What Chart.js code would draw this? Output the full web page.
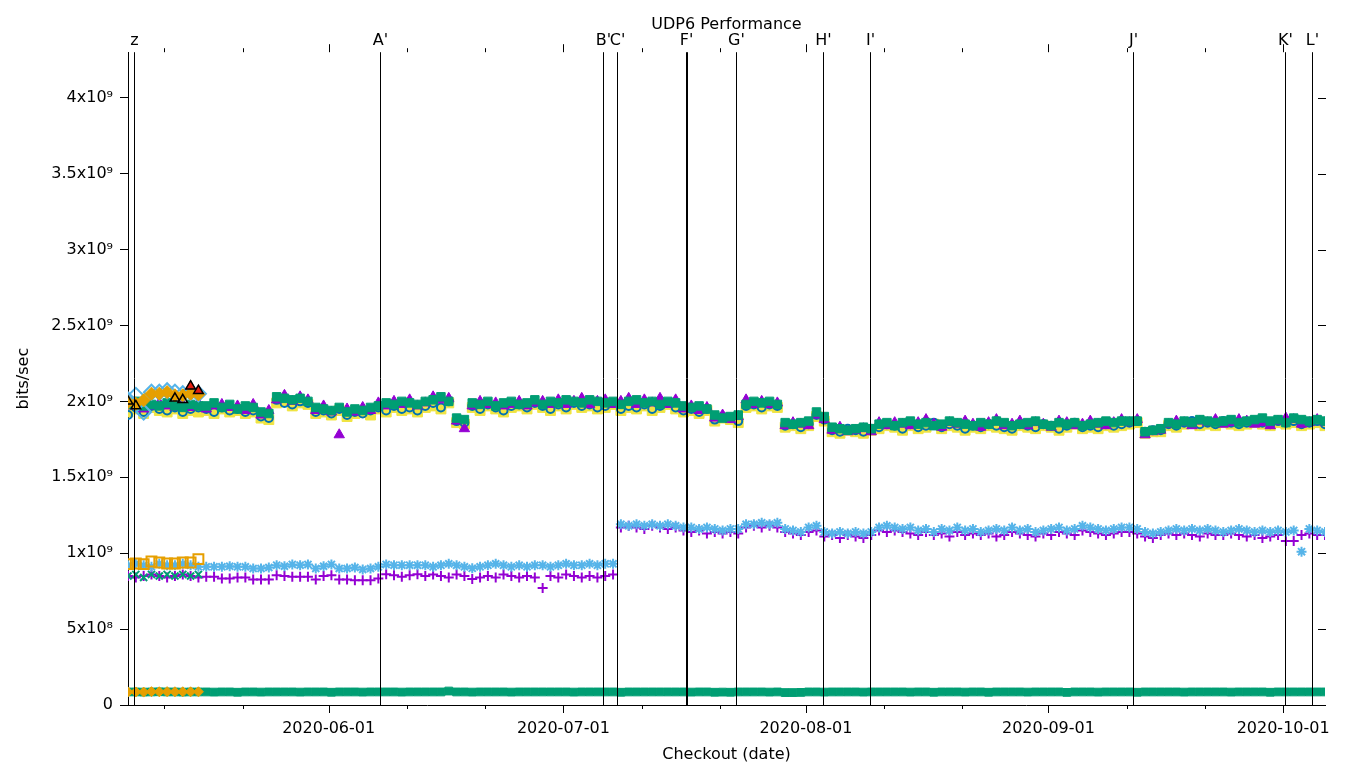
<!DOCTYPE html>
<html>
<head>
<meta charset="utf-8">
<title>UDP6 Performance</title>
<script src="https://cdn.jsdelivr.net/npm/chart.js@4.4.1/dist/chart.umd.min.js"></script>
<style>
  html, body { margin: 0; padding: 0; background: #fff; }
  #wrap { width: 1360px; height: 768px; }
</style>
</head>
<body>
<div id="wrap"><canvas id="perfChart" width="1360" height="768"></canvas></div>
<script>
// x values are days of 2020 (0 = Jan 1); one checkout per day starting at firstDay
const firstDay = 126.35;
const lastDay = 279.35;
// y values are in units of 1e7 bits/sec
const unit = 1e7;

const monthTicks = [152, 182, 213, 244, 274];
const monthLabels = ['2020-06-01', '2020-07-01', '2020-08-01', '2020-09-01', '2020-10-01'];
const minorTicks = [131, 141, 162, 172, 192, 202, 223, 233, 254, 264];

const yTicks = [0, 5e8, 1e9, 1.5e9, 2e9, 2.5e9, 3e9, 3.5e9, 4e9];
const yTickLabels = ['0', '5x10⁸', '1x10⁹', '1.5x10⁹', '2x10⁹', '2.5x10⁹', '3x10⁹', '3.5x10⁹', '4x10⁹'];

// release markers (vertical lines)
const markerDays = [127.12, 158.57, 187.09, 188.88, 197.7, 197.83, 204.1, 215.22, 221.24, 254.87, 274.18, 277.63];
const markerLabels = ['z', "A'", "B'", "C'", "F'", "F'", "G'", "H'", "I'", "J'", "K'", "L'"];

// ~2e9 cluster
const upperGreen = [
  198, 200, 197,
  198, 197, 199, 197, 196, 198, 197,
  197, 199, 196, 198, 195, 197, 196,
  193, 192,
  203, 202, 201, 202, 200,
  196, 195, 194, 196, 193, 195, 194, 196,
  197, 199, 198, 200, 199, 198, 200,
  201, 203, 200,
  189, 188,
  199, 198, 200, 197, 199,
  200, 198, 199, 201, 198, 200, 199, 201, 200, 199, 201, 200,
  199, 200, 198, 200, 201, 199, 200, 198, 200, 199,
  197, 196, 197, 195,
  191, 189, 190, 191,
  198, 200, 199, 200, 198,
  186, 185, 186, 187,
  193, 190,
  183, 182, 181, 182, 183, 182,
  185, 186, 184, 186, 187, 185, 186, 184, 185, 187, 186, 185, 184, 186, 185, 187,
  186, 184, 185, 186, 187, 185, 184, 186, 185, 186, 184, 185, 186, 187, 186, 187,
  187, 187,
  180, 181, 182,
  186, 185, 187, 186, 188, 187, 186, 187, 188, 186, 187, 188, 189, 187, 188, 186, 189, 188, 187, 188, 187
];
const upperPurple = [
  197, 199, 195,
  197, 199, 197, 196, 198, 196, 199,
  195, 197, 198, 196, 197, 194, 198,
  191, 194,
  201, 204, 200, 203, 201,
  194, 197, 193, 178, 195, 193, 196, 194,
  199, 197, 200, 198, 201, 197, 199,
  203, 201, 202,
  187, 182,
  197, 200, 198, 199, 197,
  198, 200, 197, 199, 200, 198, 201, 198, 200, 202, 198, 200,
  201, 198, 200, 202, 198, 201, 199, 202, 198, 201,
  195, 197, 194, 196,
  189, 191, 188, 190,
  201, 198, 200, 198, 199,
  184, 186, 185, 184,
  191, 188,
  181, 183, 180, 181, 182, 180,
  186, 184, 186, 185, 184, 186, 188, 185, 183, 186, 185, 187, 185, 183, 186, 188,
  184, 185, 187, 184, 186, 185, 183, 187, 186, 184, 185, 187, 185, 184, 186, 188,
  186, 188,
  178, 180, 181,
  185, 187, 186, 184, 187, 186, 188, 185, 186, 188, 187, 185, 186, 184, 187, 189, 188, 185, 186, 188, 186
];
const upperYellow = [
  193, 195, 192,
  196, 194, 193, 195, 192, 194, 193,
  194, 192, 195, 193, 194, 192, 193,
  189, 188,
  199, 200, 197, 199, 198,
  192, 193, 191, 194, 190, 192, 193, 191,
  195, 193, 196, 194, 195, 193, 196,
  197, 195, 199,
  186, 185,
  196, 194, 197, 195, 193,
  196, 197, 195, 198, 196, 194, 197, 195, 198, 196, 197, 195,
  196, 198, 194, 196, 195, 197, 194, 196, 198, 195,
  193, 194, 192, 194,
  187, 189, 188, 186,
  196, 197, 195, 197, 196,
  183, 184, 182, 184,
  190, 187,
  180, 179, 181, 180, 179, 181,
  182, 184, 183, 181, 184, 182, 183, 185, 182, 184, 183, 181, 183, 182, 184, 183,
  182, 181, 184, 183, 182, 184, 183, 181, 183, 185, 182, 183, 182, 184, 183, 184,
  185, 186,
  179, 180, 180,
  184, 183, 185, 186, 184, 185, 184, 186, 185, 184, 185, 186, 185, 184, 186, 185, 186, 184, 185, 186, 184
];
const upperBlue = [
  191, 196, 193,
  197, 195, 194, 196, 193, 195, 196,
  195, 193, 196, 194, 195, 193, 194,
  190, 189,
  201, 199, 198, 200, 199,
  193, 194, 192, 195, 191, 193, 192, 194,
  196, 194, 197, 195, 196, 194, 197,
  199, 196, 200,
  187, 186,
  197, 195, 198, 196, 194,
  197, 198, 196, 199, 197, 195, 198, 196, 199, 197, 198, 196,
  197, 199, 195, 197, 196, 198, 195, 197, 199, 196,
  194, 195, 193, 195,
  188, 190, 189, 187,
  197, 198, 196, 198, 197,
  184, 185, 183, 185,
  191, 188,
  181, 180, 182, 181, 180, 182,
  183, 185, 184, 182, 185, 183, 184, 186, 183, 185, 184, 182, 184, 183, 185, 184,
  183, 182, 185, 184, 183, 185, 184, 182, 184, 186, 183, 184, 183, 185, 184, 185,
  186, 187,
  180, 181, 181,
  185, 184, 186, 187, 185, 186, 185, 187, 186, 185, 186, 187, 186, 185, 187, 186, 187, 185, 186, 187, 185
];

// ~1e9 cluster
const midLightBlue = [
  92, 93, 92, 91, 93, 92, 92, 93, 92, 91,
  91.0, 91.0, 91.0, 91.4, 91.0, 91.0, 89.9, 89.9, 90.6, 92.1, 91.4, 92.6, 92.1, 92.6,
  89.9, 91.4, 92.6, 89.9, 89.9, 90.6, 89.3, 89.9, 91.0, 92.6, 92.1, 92.1, 92.1, 92.1,
  92, 91, 92, 93, 92, 91, 90, 91, 92, 93, 92, 91, 92, 91, 92, 92, 91, 92, 93, 92, 92, 93, 92, 93,
  93,
  119, 118, 119, 118, 119, 118, 119, 118,
  117, 117, 116, 117, 116, 115, 116,
  116, 119, 119, 120, 119, 120, 116,
  115, 114, 117,
  118,
  114, 113, 114, 113, 114, 113, 114,
  117, 118, 117, 116, 117,
  115, 116, 114, 116, 115, 117, 115, 116, 114, 115, 116, 115, 117, 115,
  116, 114, 115, 116, 117, 115, 116, 118, 117, 116, 115, 116, 117,
  117, 116, 114, 113, 114,
  115, 116, 115, 116, 115, 116, 115, 114, 115, 116, 115, 114, 115, 114, 115,
  114, 115, 101, 116, 115, 114
];
const midPurple = [
  85, 84, 85, 86, 85, 84, 85, 86, 85, 84,
  84.4, 84.4, 83.3, 83.3, 84.0, 84.0, 82.7, 82.7, 82.7, 85.5, 84.9, 84.4, 84.4, 84.4,
  82.7, 84.9, 85.5, 82.7, 82.7, 82.2, 82.2, 82.2, 83.3, 86.2, 85.5, 84.4, 85.5, 86.2,
  85, 86, 85, 84, 86, 85, 83, 84, 85, 84, 86, 85, 84, 85, 84,
  77,
  85, 84, 86, 85, 84, 85, 84, 85, 86,
  117, 118, 117, 116, 118, 117, 116, 117,
  115, 114, 115, 113, 114, 113, 114,
  113, 117, 118, 117, 118, 117, 114,
  113, 112, 114,
  115,
  111, 112, 110, 112, 111, 110, 112,
  115, 114, 115, 114, 113,
  112, 114, 112, 113, 111, 114, 112, 113, 112, 113, 111, 112, 114, 113,
  112, 111, 113, 112, 114, 113, 112, 115, 114, 113, 112, 113, 114,
  114, 113, 111, 110, 112,
  113, 112, 113, 112, 111, 113, 112, 112, 113, 112, 111, 112, 110, 111, 112,
  108, 108, 112, 113, 112, 112
];

// ~8.6e7 floor
const bottomGreen = [
  8.6, 8.6, 8.5, 8.6, 8.7, 8.6, 8.6, 8.5, 8.6, 8.6,
  8.6, 8.5, 8.6, 8.6, 8.4, 8.6, 8.6, 8.5, 8.6, 8.6,
  8.6, 8.6, 8.5, 8.6, 8.6, 8.6, 8.4, 8.6, 8.6, 8.6,
  8.5, 8.6, 8.6, 8.6, 8.6, 8.5, 8.6, 8.6, 8.6, 8.6,
  8.6, 9.2, 8.6, 8.6, 8.5, 8.6, 8.6, 8.6, 8.6, 8.5,
  8.6, 8.6, 8.6, 8.6, 8.6, 8.6, 8.6, 8.5, 8.6, 8.6,
  8.6, 8.6, 8.6, 8.4, 8.6, 8.6, 8.6, 8.6, 8.6, 8.6,
  8.6, 8.6, 8.5, 8.6, 8.6, 8.4, 8.5, 8.4, 8.6, 8.6,
  8.6, 8.6, 8.5, 8.6, 8.2, 8.2, 8.3, 8.6, 8.6, 8.5,
  8.6, 8.6, 8.6, 8.6, 8.5, 8.6, 8.6, 8.6, 8.6, 8.6,
  8.5, 8.6, 8.6, 8.4, 8.6, 8.6, 8.6, 8.5, 8.6, 8.6,
  8.4, 8.6, 8.6, 8.6, 8.6, 8.5, 8.6, 8.6, 8.6, 8.6,
  8.3, 8.6, 8.6, 8.6, 8.5, 8.6, 8.6, 8.6, 8.6, 8.4,
  8.6, 8.6, 8.6, 8.6, 8.6, 8.5, 8.6, 8.6, 8.6, 8.6,
  8.6, 8.5, 8.6, 8.6, 8.6, 8.6, 8.4, 8.6, 8.6, 8.6,
  8.6, 8.6, 8.6, 8.6
];

// tests that only ran the first ten days
const earlyOrangeTop = [199.5, 198.5, 200.7, 205.1, 205.1, 206.1, 204, 204, 205.1, 204.6];
const earlyBlueTop = [201, 204, 193, 206, 206, 207, 206, 205, 206, 205];
const earlyBlack = [200, 197, null, null, null, null, 202, 201, 210, 207];
const earlyRed = [null, null, null, null, null, null, null, null, 210, 207];
const earlyOrangeMid = [92.8, 93.2, 92.8, 94.5, 93.9, 93.2, 93.2, 93.9, 93.9, 96.1];
const earlyGreenX = [85, 86, 84, 86, 85, 86, 85, 86, 85, 86];
const earlyOrangeBottom = [8.6, 8.6, 8.5, 8.8, 8.7, 8.8, 8.7, 8.7, 8.7, 8.7];

const purple = '#9400d3', green = '#009e73', lightBlue = '#56b4e9', orange = '#e69f00',
      yellow = '#f0e442', blue = '#0072b2', red = '#e51e10', black = '#000000';

function toPoints(values) {
  const pts = [];
  values.forEach((v, i) => {
    if (v !== null) pts.push({ x: firstDay + i, y: v * unit });
  });
  return pts;
}

function series(label, values, color, style, radius, filled, width) {
  return {
    label: label,
    data: toPoints(values),
    showLine: false,
    pointStyle: style,
    pointRadius: radius,
    pointBorderColor: color,
    pointBackgroundColor: filled ? color : 'rgba(0,0,0,0)',
    pointBorderWidth: width || (filled ? 1 : 1.5)
  };
}

// first dataset is drawn on top
const datasets = [
  series('early black', earlyBlack, black, 'triangle', 5.5, false, 1.5),
  series('early red', earlyRed, red, 'triangle', 5.5, true),
  series('early orange top', earlyOrangeTop, orange, 'rectRot', 6.5, true),
  series('early blue top', earlyBlueTop, lightBlue, 'rectRot', 7.5, false, 2),
  series('early orange bottom', earlyOrangeBottom, orange, 'rectRot', 5, true),
  series('upper green', upperGreen, green, 'rect', 6, true),
  series('upper purple', upperPurple, purple, 'triangle', 6, true),
  series('upper blue', upperBlue, blue, 'circle', 4, false, 2),
  series('upper yellow', upperYellow, yellow, 'rect', 7, true),
  series('early orange mid', earlyOrangeMid, orange, 'rect', 7, false, 2),
  series('mid light blue', midLightBlue, lightBlue, 'star', 5, false, 2),
  series('early green x', earlyGreenX, green, 'crossRot', 5, false, 2),
  series('mid purple', midPurple, purple, 'cross', 5, false, 2),
  series('bottom green', bottomGreen, green, 'rect', 5.5, true)
];

const gnuplotMarks = {
  id: 'gnuplotMarks',
  afterDatasetsDraw(chart) {
    const { ctx, chartArea: a, scales: { x, y } } = chart;
    ctx.save();
    ctx.strokeStyle = '#000';
    ctx.fillStyle = '#000';
    ctx.lineWidth = 1;
    ctx.font = '16px "DejaVu Sans"';
    ctx.textAlign = 'center';
    ctx.textBaseline = 'alphabetic';

    let prev = null;
    markerDays.forEach((d, i) => {
      const px = Math.round(x.getPixelForValue(d)) + 0.5;
      ctx.beginPath();
      ctx.moveTo(px, a.top);
      ctx.lineTo(px, a.bottom);
      ctx.stroke();
      if (markerLabels[i] !== prev) ctx.fillText(markerLabels[i], px, 45);
      prev = markerLabels[i];
    });

    const tick = (d, len) => {
      const px = Math.round(x.getPixelForValue(d)) + 0.5;
      ctx.beginPath();
      ctx.moveTo(px, a.bottom);
      ctx.lineTo(px, a.bottom + len);
      ctx.moveTo(px, a.top);
      ctx.lineTo(px, a.top - len);
      ctx.stroke();
    };
    monthTicks.forEach(d => tick(d, 8));
    minorTicks.forEach(d => tick(d, 4));

    yTicks.forEach(v => {
      const py = Math.round(y.getPixelForValue(v)) + 0.5;
      ctx.beginPath();
      ctx.moveTo(a.right - 7, py);
      ctx.lineTo(a.right + 1, py);
      ctx.stroke();
    });
    ctx.restore();
  }
};

Chart.defaults.font.family = '"DejaVu Sans", sans-serif';
Chart.defaults.font.size = 16;
Chart.defaults.color = '#000';

new Chart(document.getElementById('perfChart'), {
  type: 'scatter',
  data: { datasets: datasets },
  options: {
    responsive: false,
    animation: false,
    devicePixelRatio: 1,
    events: [],
    layout: { padding: { left: 0, right: 35, top: 0, bottom: 0 } },
    plugins: {
      legend: { display: false },
      tooltip: { enabled: false },
      title: {
        display: true,
        text: 'UDP6 Performance',
        fullSize: false,
        color: '#000',
        font: { size: 16, weight: 'normal' },
        padding: { top: 15, bottom: 18 }
      }
    },
    scales: {
      x: {
        type: 'linear',
        position: 'bottom',
        min: firstDay,
        max: lastDay,
        afterBuildTicks: s => { s.ticks = monthTicks.map(v => ({ value: v })); },
        ticks: {
          autoSkip: false,
          maxRotation: 0,
          padding: 14,
          callback: (v, i) => monthLabels[i]
        },
        grid: { display: false, drawTicks: false },
        border: { display: true, color: '#000', width: 1 },
        title: { display: true, text: 'Checkout (date)', padding: { top: 0, bottom: 4 } },
        afterFit: s => { s.height = 63; }
      },
      y: {
        type: 'linear',
        position: 'left',
        min: 0,
        max: 4.3e9,
        afterBuildTicks: s => { s.ticks = yTicks.map(v => ({ value: v })); },
        ticks: {
          autoSkip: false,
          padding: 7,
          callback: (v, i) => yTickLabels[i]
        },
        grid: { drawOnChartArea: false, drawTicks: true, tickLength: 8, color: '#000' },
        border: { display: true, color: '#000', width: 1 },
        title: { display: true, text: 'bits/sec', padding: { top: 14, bottom: 0 } },
        afterFit: s => { s.width = 128; }
      }
    }
  },
  plugins: [gnuplotMarks]
});
</script>
</body>
</html>
